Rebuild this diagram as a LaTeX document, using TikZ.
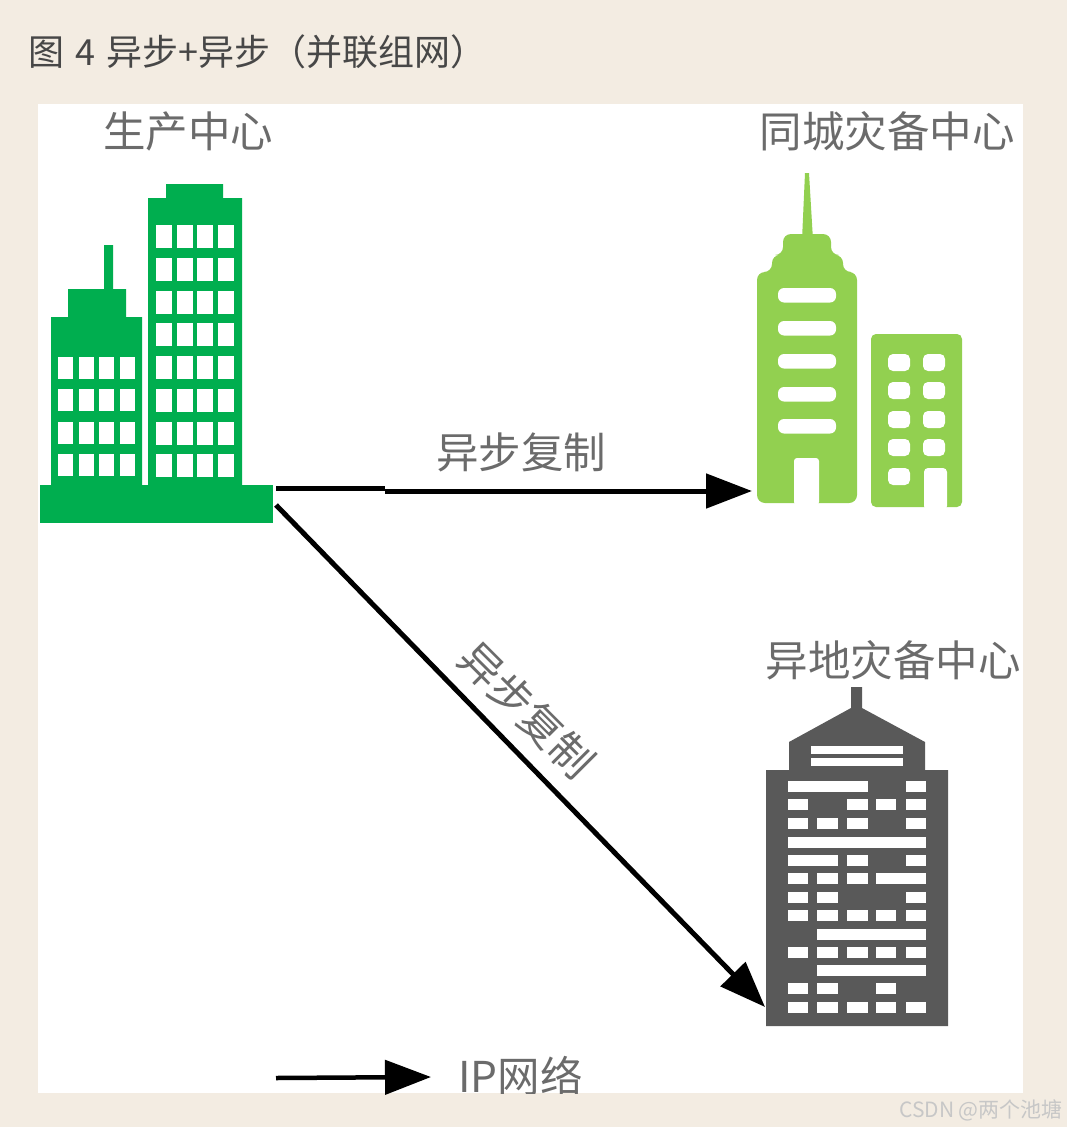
\documentclass[tikz,border=0pt]{standalone}
\usepackage{fontspec}
\setmainfont{Noto Sans CJK SC}
\usetikzlibrary{arrows.meta}
\definecolor{pagetan}{HTML}{F3ECE2}
\definecolor{prodgreen}{HTML}{00AE4F}
\definecolor{citygreen}{HTML}{92D050}
\definecolor{remotegray}{HTML}{595959}
\tikzset{
  sitelabel/.style={text=black!58,font=\fontsize{42.5}{42.5}\selectfont,inner sep=0pt},
  netline/.style={black,line width=5pt},
  netarrow/.style={netline,-{Triangle[length=46pt,width=34pt]}},
  pane/.style={fill=white}
}
\begin{document}
\begin{tikzpicture}[x=1pt,y=-1pt]
\useasboundingbox[fill=pagetan] (0,0) rectangle (1067,1127);
\fill[white] (38,104) rectangle (1023,1093);
\node[anchor=west,inner sep=0pt,text=black!72,font=\fontsize{36}{36}\selectfont] (title) at (28,52) {图\hspace{11pt}4\hspace{11pt}异步+异步（并联组网）};
% production centre
\fill[prodgreen] (40,485) rectangle (273,523);
\fill[prodgreen] (51,485)--(51,317)--(68,317)--(68,289)--(104,289)--(104,245)--(113,245)--(113,289)--(126,289)--(126,317)--(142,317)--(142,485)--cycle;
\fill[prodgreen] (148,485)--(148,198)--(166,198)--(166,184)--(223,184)--(223,198)--(242,198)--(242,485)--cycle;
\foreach \x in {58,79,99,120}{\foreach \y in {357,389,422,454}{\fill[pane] (\x,\y) rectangle +(15,22);}}
\foreach \x in {156,177,197,218}{\foreach \y in {225,258,291,323,356,389,422,454}{\fill[pane] (\x,\y) rectangle +(16,23);}}
% city backup centre
\fill[citygreen,rounded corners=8pt] (757,503)--(757,272)--(772,272)--(772,255)--(783,255)--(783,234)--(831,234)--(831,255)--(843,255)--(843,272)--(857,272)--(857,503)--cycle;
\fill[citygreen] (802,240)--(805,173)--(809,173)--(813,240)--cycle;
\fill[citygreen,rounded corners=5pt] (871,507) rectangle (962,334);
\foreach \y in {288,321,354,387,419}{\fill[pane,rounded corners=6pt] (778,\y) rectangle +(58,14.5);}
\fill[pane,rounded corners=3pt] (794,505)--(794,458)--(819,458)--(819,505)--cycle;
\foreach \y in {354,382,411,439}{\fill[pane,rounded corners=5pt] (888,\y) rectangle +(22,17);\fill[pane,rounded corners=5pt] (923,\y) rectangle +(22,17);}
\fill[pane,rounded corners=5pt] (888,468) rectangle +(22,17);
\fill[pane,rounded corners=4pt] (924,510)--(924,468)--(947,468)--(947,510)--cycle;
% remote backup centre
\fill[remotegray] (766,1026)--(766,770)--(789,770)--(789,742)--(851,708)--(851,687)--(862,687)--(862,708)--(925,742)--(925,770)--(948,770)--(948,1026)--cycle;
\fill[pane] (811,746) rectangle (903,754);\fill[pane] (811,758) rectangle (903,766);
\foreach \y/\a/\b in {781/788/868,781/906/926,799/788/808,799/847/868,799/876/896,799/906/926,818/788/808,818/817/838,818/847/868,818/906/926,837/788/926,855/788/838,855/847/868,855/906/926,873/788/808,873/817/838,873/847/868,873/876/926,892/788/808,892/817/838,892/906/926,910/788/808,910/817/838,910/847/868,910/876/896,910/906/926,929/817/926,947/788/808,947/817/838,947/847/868,947/876/896,947/906/926,965/817/926,983/788/808,983/817/838,983/876/896,1002/788/808,1002/817/838,1002/847/868,1002/876/896,1002/906/926}{\fill[pane] (\a,\y) rectangle (\b,\y+11);}
% labels
\node[sitelabel] (prodlabel) at (188,131) {生产中心};
\node[sitelabel] (citylabel) at (887,131) {同城灾备中心};
\node[sitelabel] (remotelabel) at (893,660) {异地灾备中心};
\node[sitelabel] (citylink) at (521,452) {异步复制};
\node[sitelabel,rotate=-45] (remotelink) at (527,710) {异步复制};
% links
\coordinate (prodcity) at (276,488);
\coordinate (cityjog) at (385,488);
\coordinate (cityjoin) at (385,491);
\coordinate (cityend) at (752,491);
\coordinate (prodremote) at (276,505);
\coordinate (remoteend) at (765,1007);
\draw[netline] (prodcity)--(cityjog);
\draw[netarrow] (cityjoin)--(cityend);
\draw[netarrow] (prodremote)--(remoteend);
% legend
\coordinate (legendstart) at (276,1078);
\coordinate (legendend) at (431,1077);
\draw[netarrow,line width=4.5pt] (legendstart)--(legendend);
\begin{scope}
\clip (38,104) rectangle (1023,1093);
\node[sitelabel,anchor=west] (legendlabel) at (458,1076) {IP网络};
\end{scope}
\node[anchor=east,inner sep=0pt,text=black!22,font=\fontsize{21}{21}\selectfont] (mark) at (1063,1110) {CSDN @两个池塘};
\end{tikzpicture}
\end{document}
